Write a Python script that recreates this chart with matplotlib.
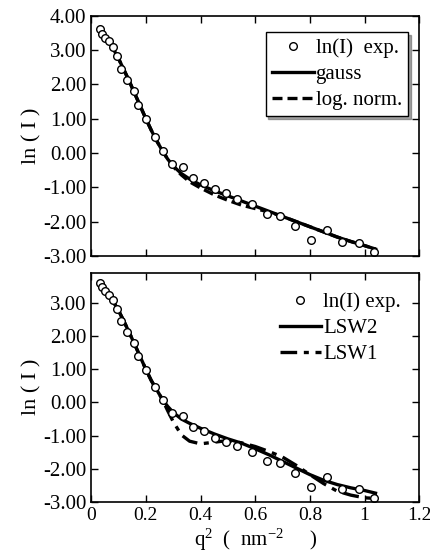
import matplotlib
matplotlib.use('Agg')
import matplotlib.pyplot as plt

plt.rcParams['font.family'] = ['Liberation Serif', 'DejaVu Serif']
plt.rcParams['mathtext.fontset'] = 'custom'
plt.rcParams['mathtext.rm'] = 'Liberation Serif'
plt.rcParams['mathtext.default'] = 'regular'

# experimental points (same set in both panels)
q2_exp = [0.034, 0.040, 0.052, 0.064, 0.080, 0.095, 0.109, 0.131, 0.155, 0.173,
          0.200, 0.232, 0.262, 0.295, 0.335, 0.373, 0.413, 0.452, 0.495, 0.535,
          0.589, 0.642, 0.692, 0.745, 0.804, 0.862, 0.919, 0.979, 1.034]
lnI_exp = [3.62, 3.48, 3.36, 3.26, 3.09, 2.82, 2.46, 2.14, 1.81, 1.39,
           0.98, 0.47, 0.06, -0.31, -0.42, -0.74, -0.87, -1.06, -1.18, -1.33,
           -1.50, -1.78, -1.84, -2.13, -2.54, -2.25, -2.60, -2.62, -2.90]

# fitted curves
q2_fit = [0.035, 0.06, 0.08, 0.10, 0.12, 0.14, 0.16, 0.18, 0.20, 0.22,
          0.24, 0.26, 0.28, 0.30, 0.33, 0.36, 0.40, 0.45, 0.50, 0.55,
          0.60, 0.65, 0.70, 0.75, 0.80, 0.85, 0.90, 0.95, 1.00, 1.04]
gauss = [3.62, 3.30, 3.05, 2.75, 2.42, 2.08, 1.72, 1.36, 1.00, 0.66,
         0.35, 0.07, -0.18, -0.38, -0.60, -0.76, -0.93, -1.10, -1.25, -1.40,
         -1.55, -1.70, -1.85, -2.00, -2.15, -2.30, -2.45, -2.58, -2.70, -2.80]
lognorm = [3.62, 3.30, 3.05, 2.75, 2.42, 2.08, 1.72, 1.36, 1.00, 0.66,
           0.35, 0.07, -0.18, -0.40, -0.64, -0.84, -1.02, -1.22, -1.38, -1.52,
           -1.62, -1.72, -1.85, -2.00, -2.15, -2.30, -2.45, -2.58, -2.70, -2.80]
lsw2 = [3.65, 3.32, 3.06, 2.78, 2.45, 2.10, 1.74, 1.37, 1.00, 0.66,
        0.38, 0.10, -0.12, -0.30, -0.50, -0.63, -0.78, -0.95, -1.10, -1.23,
        -1.40, -1.58, -1.78, -1.98, -2.18, -2.35, -2.48, -2.58, -2.66, -2.74]
lsw1 = [3.65, 3.32, 3.06, 2.78, 2.45, 2.10, 1.74, 1.37, 1.00, 0.66,
        0.38, 0.10, -0.25, -0.58, -0.98, -1.17, -1.25, -1.20, -1.15, -1.22,
        -1.33, -1.48, -1.65, -1.90, -2.18, -2.45, -2.68, -2.80, -2.88, -2.90]

yticks_top = [4, 3, 2, 1, 0, -1, -2, -3]
yticks_bot = [3, 2, 1, 0, -1, -2, -3]
xticks = [0, 0.2, 0.4, 0.6, 0.8, 1.0, 1.2]
xticklabels = ['0', '0.2', '0.4', '0.6', '0.8', '1', '1.2']

fig = plt.figure(figsize=(4.3, 5.6), dpi=100)
ax1 = fig.add_axes([0.212, 0.543, 0.763, 0.429])
ax2 = fig.add_axes([0.212, 0.104, 0.763, 0.409])

mk = dict(marker='o', mfc='white', mec='black', ms=5.5, mew=1.0, ls='none')

# top panel
ax1.plot(q2_fit, lognorm, color='black', lw=2.4, ls=(0, (3, 1.5)), label='log. norm.')
ax1.plot(q2_fit, gauss, color='black', lw=2.4, label='gauss')
ax1.plot(q2_exp, lnI_exp, label='ln(I)  exp.', **mk)
h, l = ax1.get_legend_handles_labels()
leg = ax1.legend([h[2], h[1], h[0]], [l[2], l[1], l[0]], loc='upper right',
                 bbox_to_anchor=(0.966, 0.93), fontsize=15, frameon=True,
                 fancybox=False, shadow=True, edgecolor='black',
                 handlelength=2.0, handletextpad=0.1, borderpad=0.3,
                 labelspacing=0.3, borderaxespad=0)
leg.get_frame().set_linewidth(1.0)

# bottom panel
ax2.plot(q2_fit, lsw1, color='black', lw=2.4, ls=(0, (5, 2, 1.5, 2)), label='LSW1')
ax2.plot(q2_fit, lsw2, color='black', lw=2.4, label='LSW2')
ax2.plot(q2_exp, lnI_exp, label='ln(I) exp.', **mk)
h, l = ax2.get_legend_handles_labels()
ax2.legend([h[2], h[1], h[0]], [l[2], l[1], l[0]], loc='upper right',
           bbox_to_anchor=(0.97, 0.95), fontsize=15, frameon=False,
           handlelength=2.0, handletextpad=0.1, labelspacing=0.3,
           borderaxespad=0)

for ax in (ax1, ax2):
    ax.set_xlim(0, 1.2)
    ax.set_xticks(xticks)
    ax.tick_params(direction='in', top=True, right=True, length=5, width=1)
    ax.tick_params(axis='y', labelsize=15)
    ax.tick_params(axis='x', labelsize=14)
    for s in ax.spines.values():
        s.set_linewidth(1.2)
    ax.set_ylabel('ln ( I )', fontsize=16, labelpad=1)

ax1.set_ylim(-3, 4)
ax1.set_yticks(yticks_top)
ax1.set_yticklabels(['%.2f' % v for v in yticks_top])
ax1.tick_params(labelbottom=False)

ax2.set_ylim(-3, 3.92)
ax2.set_yticks(yticks_bot)
ax2.set_yticklabels(['%.2f' % v for v in yticks_bot])
ax2.set_xticklabels(xticklabels)
ax2.set_xlabel(r'q$^{2}$  (  nm$^{-2}$     )', fontsize=15, labelpad=2)

fig.savefig('out.png', dpi=100)
